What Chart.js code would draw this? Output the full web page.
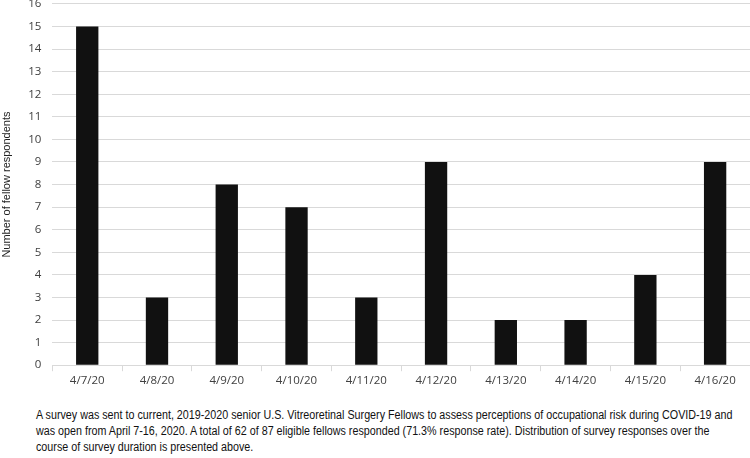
<!DOCTYPE html>
<html>
<head>
<meta charset="utf-8">
<script src="https://cdn.jsdelivr.net/npm/chart.js"></script>
<style>
  html, body { margin: 0; padding: 0; background: #fff; overflow: hidden; }
  #wrap { position: absolute; left: 0; top: -14px; width: 750px; height: 405px; }
  #caption {
    position: absolute; left: 36px; top: 407px; white-space: nowrap;
    font-family: "Liberation Sans", Arial, sans-serif; font-size: 12px;
    line-height: 16px; color: #111;
    transform: scaleX(0.895); transform-origin: left top;
  }
</style>
</head>
<body>
<div id="wrap"><canvas id="chart"></canvas></div>
<div id="caption">A survey was sent to current, 2019-2020 senior U.S. Vitreoretinal Surgery Fellows to assess perceptions of occupational risk during COVID-19 and<br>was open from April 7-16, 2020. A total of 62 of 87 eligible fellows responded (71.3% response rate). Distribution of survey responses over the<br>course of survey duration is presented above.</div>
<script>
// survey response dates and counts
const dates = ['4/7/20', '4/8/20', '4/9/20', '4/10/20', '4/11/20', '4/12/20', '4/13/20', '4/14/20', '4/15/20', '4/16/20'];
const respondents = [15, 3, 8, 7, 3, 9, 2, 2, 4, 9];

new Chart(document.getElementById('chart'), {
    type: 'bar',
    data: {
        labels: dates,
        datasets: [{
            data: respondents,
            backgroundColor: '#111111',
            barPercentage: 0.32,
            categoryPercentage: 1
        }]
    },
    options: {
        responsive: true,
        maintainAspectRatio: false,
        animation: false,
        layout: { padding: 0 },
        plugins: { legend: { display: false }, tooltip: { enabled: false } },
        scales: {
            x: {
                grid: { display: true, drawOnChartArea: false, drawTicks: true, tickLength: 6, color: '#d9d9d9', offset: true },
                border: { display: true, color: '#d9d9d9' },
                ticks: { color: '#404040', font: { family: 'Open Sans', size: 11.5 }, padding: 3 }
            },
            y: {
                min: 0, max: 16,
                grid: { color: '#d9d9d9', drawTicks: false },
                border: { display: false },
                ticks: { stepSize: 1, color: '#404040', font: { family: 'Open Sans', size: 11.5 }, padding: 11 },
                title: { display: true, text: 'Number of fellow respondents', color: '#222', font: { family: 'Liberation Sans', size: 11 }, padding: { top: 0, bottom: 4 } }
            }
        }
    }
});
</script>
</body>
</html>
